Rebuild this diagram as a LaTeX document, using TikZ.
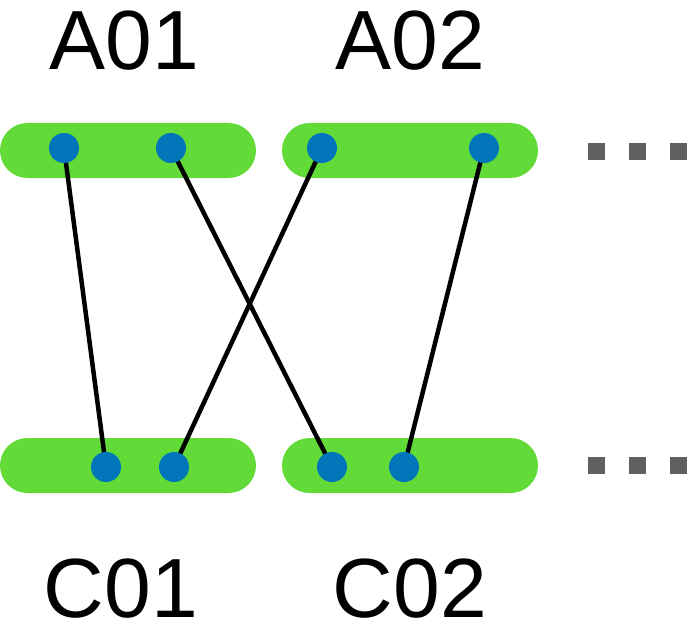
\documentclass[tikz,border=0pt]{standalone}
\usepackage{fontspec}
\setmainfont{Liberation Sans}
\usetikzlibrary{shapes.misc}
\definecolor{barg}{HTML}{62DA38}
\definecolor{dotb}{HTML}{0075BA}
\definecolor{elg}{HTML}{606060}
\pgfdeclarelayer{barlayer}
\pgfdeclarelayer{linklayer}
\pgfsetlayers{barlayer,linklayer,main}
\begin{document}
\begin{tikzpicture}[x=1pt,y=-1pt,
  bar/.style={rounded rectangle, fill=barg, draw=none, minimum width=256pt, minimum height=55pt, inner sep=0pt},
  pin/.style={circle, fill=dotb, draw=none, minimum size=30pt, inner sep=0pt},
  link/.style={line width=4.5pt, black},
  lab/.style={font=\fontsize{84}{100}\selectfont, anchor=base, inner sep=0pt, text depth=0pt},
  sq/.style={fill=elg, draw=none, minimum size=17pt, inner sep=0pt}]
\useasboundingbox (0,0) rectangle (697,626);
% bars
\begin{pgfonlayer}{barlayer}
\node[bar] (ta) at (128,150.5) {};
\node[bar] (tb) at (410,150.5) {};
\node[bar] (ba) at (128,465.5) {};
\node[bar] (bb) at (410,465.5) {};
\end{pgfonlayer}
% labels
\node[lab] (la1) at (124,70) {A01};
\node[lab] (la2) at (410,70) {A02};
\node[lab] (lc1) at (121,617) {C01};
\node[lab] (lc2) at (410,617) {C02};
% pins
\node[pin] (a1) at (64,148) {};
\node[pin] (a2) at (171,148) {};
\node[pin] (a3) at (322,148) {};
\node[pin] (a4) at (484,148) {};
\node[pin] (c1) at (106,467) {};
\node[pin] (c2) at (174,467) {};
\node[pin] (c3) at (332,467) {};
\node[pin] (c4) at (404,467) {};
% links
\begin{pgfonlayer}{linklayer}
\draw[link] (a1.center) -- (c1.center);
\draw[link] (a2.center) -- (c3.center);
\draw[link] (a3.center) -- (c2.center);
\draw[link] (a4.center) -- (c4.center);
\end{pgfonlayer}
% ellipsis squares
\node[sq] (e1) at (596.5,151) {};
\node[sq] (e2) at (637.5,151) {};
\node[sq] (e3) at (678.5,151) {};
\node[sq] (f1) at (596.5,465.5) {};
\node[sq] (f2) at (637.5,465.5) {};
\node[sq] (f3) at (678.5,465.5) {};
\end{tikzpicture}
\end{document}
